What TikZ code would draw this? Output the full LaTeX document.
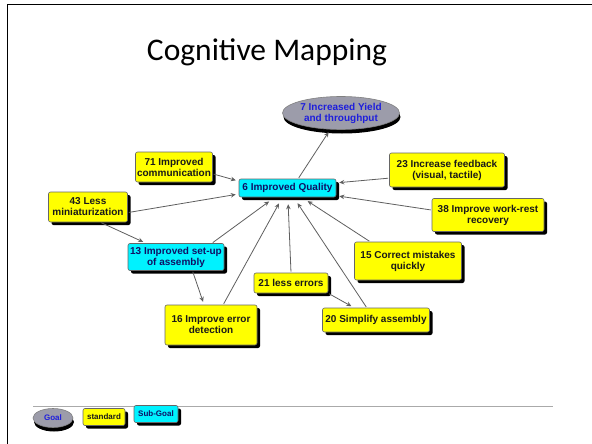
\documentclass[tikz,border=0pt]{standalone}
\usepackage{fontspec}
\setmainfont{Liberation Sans}
\newfontfamily\titlefont{Carlito}
\usetikzlibrary{shadows,arrows.meta,shapes.geometric}
\definecolor{boxyellow}{RGB}{255,255,0}
\definecolor{boxcyan}{RGB}{0,242,255}
\definecolor{goalgray}{RGB}{156,156,170}
\definecolor{goalblue}{RGB}{30,30,220}
\definecolor{subnavy}{RGB}{15,15,100}
\definecolor{linkgray}{RGB}{95,95,95}
\definecolor{rulegray}{RGB}{170,170,170}

\tikzset{
  mapbox/.style={font=\bfseries\fontsize{10}{11}\selectfont, align=center,
    inner sep=0pt, draw=black!60, line width=0.6pt, rounded corners=2pt,
    drop shadow={shadow xshift=3pt, shadow yshift=-3pt, opacity=1, fill=black}},
  standard/.style={mapbox, fill=boxyellow, text=black!90},
  subgoal/.style={mapbox, fill=boxcyan, text=subnavy},
  goal/.style={ellipse, font=\bfseries\fontsize{10}{11}\selectfont, align=center,
    inner sep=0pt, draw=black!50, line width=0.6pt, fill=goalgray, text=goalblue,
    drop shadow={shadow xshift=1pt, shadow yshift=-4pt, opacity=1, fill=black}},
  legendfont/.style={font=\bfseries\fontsize{8}{9}\selectfont},
  link/.style={draw=linkgray, line width=0.8pt,
    -{Stealth[length=5pt,width=4.5pt]}, shorten >=3pt, shorten <=1pt},
  uplink/.style={link, shorten >=7pt}
}

\begin{document}
\begin{tikzpicture}[x=1pt,y=-1pt]
\useasboundingbox (0,0) rectangle (592,444);
\fill[white] (0,0) rectangle (592,444);

% slide frame
\draw[line width=1.5pt] (7.5,446) -- (7.5,4.5) -- (594,4.5);

% title
\node[anchor=base] (title) at (267,61) {\titlefont\fontsize{31.5}{38}\selectfont Cognitive Mapping};

% concepts
\node[goal, minimum width=117pt, minimum height=33pt] (g7) at (341,113)
  {7 Increased Yield\\and throughput};
\node[subgoal, minimum width=97pt, minimum height=18pt] (q6) at (287.5,188)
  {6 Improved Quality};
\node[standard, minimum width=77pt, minimum height=30pt] (n71) at (174,167)
  {71 Improved\\communication};
\node[standard, minimum width=115pt, minimum height=34pt] (n23) at (447,170)
  {23 Increase feedback\\(visual, tactile)};
\node[standard, minimum width=112pt, minimum height=33pt] (n38) at (488,215)
  {38 Improve work-rest\\recovery};
\node[standard, minimum width=79pt, minimum height=30pt] (n43) at (88,207)
  {43 Less\\miniaturization};
\node[subgoal, minimum width=96pt, minimum height=27pt] (n13) at (176,257)
  {13 Improved set-up\\of assembly};
\node[standard, minimum width=74pt, minimum height=20pt] (n21) at (291,283)
  {21 less errors};
\node[standard, minimum width=107pt, minimum height=38pt] (n15) at (408,261)
  {15 Correct mistakes\\quickly};
\node[standard, minimum width=92pt, minimum height=40pt] (n16) at (211,325)
  {16 Improve error\\detection};
\node[standard, minimum width=107pt, minimum height=24pt] (n20) at (376,320)
  {20 Simplify assembly};

% links
\draw[link] (q6.41) -- (g7);
\draw[link] (n71.-10) -- (q6.172);
\draw[link] (n43.-8) -- (q6.187);
\draw[link] (n23.188) -- (q6.6);
\draw[link] (n38.175) -- (q6.-9);
\draw[uplink] (n13.21) -- (q6);
\draw[uplink] (n16.59) -- (q6);
\draw[uplink] (n21.north) -- (q6);
\draw[uplink] (n20.127) -- (q6);
\draw[uplink] (n15.153) -- (q6);
\draw[link] (n43.-51) -- (n13);
\draw[link] (n13.-40) -- (n16);
\draw[link] (n21.south east) -- (n20);

% legend
\draw[rulegray, line width=1pt] (33,406) -- (553,406);
\node[goal, legendfont, minimum width=40pt, minimum height=19pt] (lgoal) at (53,418) {Goal};
\node[standard, legendfont, minimum width=42pt, minimum height=17pt] (lstd) at (104,417) {standard};
\node[subgoal, legendfont, minimum width=44pt, minimum height=17pt] (lsub) at (156,414) {Sub-Goal};
\end{tikzpicture}
\end{document}
